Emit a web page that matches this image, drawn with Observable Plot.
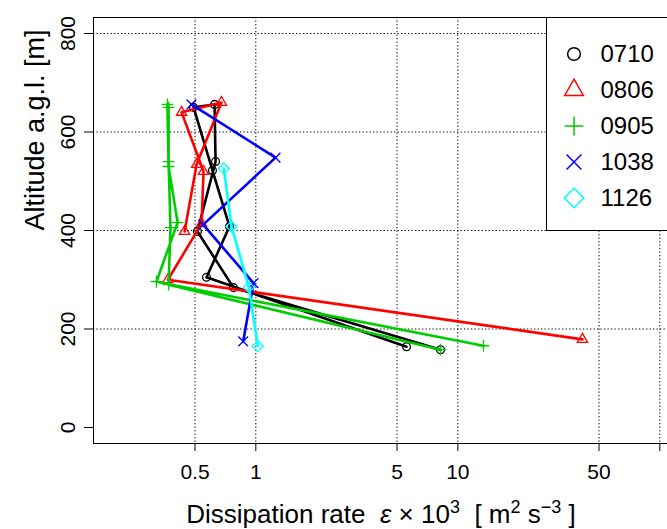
<!DOCTYPE html>
<html>
<head>
<meta charset="utf-8">
<script src="https://cdn.jsdelivr.net/npm/d3@7"></script>
<script src="https://cdn.jsdelivr.net/npm/@observablehq/plot@0.6"></script>
<style>
  html, body { margin: 0; padding: 0; background: #fff; width: 667px; height: 529px; overflow: hidden; }
  #wrap { position: relative; width: 667px; height: 529px; overflow: hidden; font-family: "Liberation Sans", Arial, Helvetica, sans-serif; }
  #chart { position: absolute; left: 0; top: 0; width: 690px; height: 529px; }
  #chart svg { max-width: none !important; display: block; }
  #legend { position: absolute; left: 545.5px; top: 16.5px; width: 150px; height: 214px; border: 1px solid #000; background: #fff; box-sizing: border-box; }
  .lrow { position: absolute; left: 0; height: 36px; }
  .lrow svg { position: absolute; left: 12px; top: 3px; }
  .lrow span { position: absolute; left: 54px; font-size: 24px; line-height: 36px; color: #000; white-space: nowrap; }
</style>
</head>
<body>
<div id="wrap"><div id="chart"></div><div id="legend"></div></div>
<script>
// ---- data ----
const seriesNames = ["0710", "0806", "0905", "1038", "1126"];
const seriesColors = ["#000000", "#ff0000", "#00cd00", "#0000ff", "#00ffff"];
const seriesSymbols = ["circle", "triangle2", "plus", "times", "diamond2"];

// dissipation rate (x 10^3, m^2 s^-3) and altitude (m) per flight, in drawing order
const eps0710 = [5.57, 0.570, 0.741, 0.610, 0.492, 0.625, 0.632, 0.514, 0.775, 8.21];
const alt0710 = [164, 305, 408, 522, 650, 656, 540, 398, 284, 158];

const eps0806 = [41.4, 0.367, 0.539, 0.551, 0.429, 0.676, 0.509, 0.444];
const alt0806 = [179, 300, 414, 520, 640, 660, 534, 398];

const eps0905 = [13.4, 0.322, 0.410, 0.370, 0.365, 0.370, 0.370, 0.378, 0.370, 8.21];
const alt0905 = [166, 296, 416, 530, 656, 650, 540, 406, 290, 158];

const eps1038 = [0.866, 0.974, 0.549, 1.252, 0.480];
const alt1038 = [175, 293, 412, 548, 656];

const eps1126 = [1.023, 0.923, 0.758, 0.694];
const alt1126 = [165, 285, 408, 526];

const xTicks = [0.5, 1, 5, 10, 50, 100];
const xTickLabels = ["0.5", "1", "5", "10", "50", ""];
const yTicks = [0, 200, 400, 600, 800];
const yGridTicks = [200, 400, 600, 800];

const xTitle = "Dissipation rate \u03B5 \u00D7 10\u00B3 [ m\u00B2 s\u207B\u00B3 ]";
const yTitle = "Altitude a.g.l. [m]";

// ---- build tables ----
const epsList = [eps0710, eps0806, eps0905, eps1038, eps1126];
const altList = [alt0710, alt0806, alt0905, alt1038, alt1126];
const tables = seriesNames.map((name, i) =>
  epsList[i].map((e, j) => ({series: name, eps: e, alt: altList[i][j]}))
);
const markerR = {circle: 3.9, triangle2: 4.9, plus: 3.9, times: 4.5, diamond2: 4.9};

const font = '"Liberation Sans", Arial, Helvetica, sans-serif';

const seriesMarks = tables.flatMap((rows, i) => [
  Plot.line(rows, {x: "eps", y: "alt", stroke: seriesColors[i], strokeWidth: 2.6, strokeLinejoin: "round"}),
  Plot.dot(rows, {x: "eps", y: "alt", symbol: seriesSymbols[i], stroke: seriesColors[i], fill: "none",
                  r: markerR[seriesSymbols[i]], strokeWidth: 1.3})
]);

const chart = Plot.plot({
  width: 690,
  height: 529,
  marginLeft: 93,
  marginTop: 17,
  marginBottom: 86,
  marginRight: 8,
  style: {fontFamily: font, background: "white", color: "black", maxWidth: "none"},
  x: {type: "log", domain: [0.1572, 129.5]},
  y: {domain: [-32.5, 832.5]},
  marks: [
    Plot.gridX(xTicks, {stroke: "black", strokeOpacity: 1, strokeWidth: 1, strokeDasharray: "1.3,2.2"}),
    Plot.gridY(yGridTicks, {stroke: "black", strokeOpacity: 1, strokeWidth: 1, strokeDasharray: "1.3,2.2"}),
    Plot.axisX(xTicks, {tickSize: 8, tickFormat: () => "", label: null, strokeWidth: 1}),
    Plot.axisY(yTicks, {tickSize: 9, tickFormat: () => "", label: null, strokeWidth: 1}),
    Plot.text(xTicks, {x: d => d, text: (d, i) => xTickLabels[i], frameAnchor: "bottom", dy: 29,
                       lineAnchor: "middle", fontSize: 21, fill: "black"}),
    Plot.text(yTicks, {y: d => d, text: d => String(d), frameAnchor: "left", dx: -25.5, rotate: -90,
                       textAnchor: "middle", lineAnchor: "middle", fontSize: 21, fill: "black"}),
    Plot.text([xTitle], {frameAnchor: "bottom", dy: 71, dx: -7, lineAnchor: "middle", fontSize: 26, fill: "black"}),
    Plot.text([yTitle], {frameAnchor: "left", dx: -58, rotate: -90, lineAnchor: "middle", fontSize: 27, fill: "black"}),
    ...seriesMarks,
    Plot.frame({stroke: "black", strokeWidth: 1})
  ]
});
document.getElementById("chart").appendChild(chart);

// Render the x title with true superscripts (still real text)
(function () {
  const texts = chart.querySelectorAll("text");
  for (const t of texts) {
    if (t.textContent === xTitle) {
      t.textContent = "";
      const parts = [
        ["Dissipation rate  ", null, null],
        ["\u03B5", "italic", null],
        [" \u00D7 10", null, null],
        ["3", null, "sup"],
        ["  [ m", null, "after"],
        ["2", null, "sup"],
        [" s", null, "after"],
        ["\u22123", null, "sup"],
        [" ]", null, "after"]
      ];
      for (const [s, style, pos] of parts) {
        const ts = document.createElementNS("http://www.w3.org/2000/svg", "tspan");
        ts.textContent = s;
        if (style) ts.setAttribute("font-style", style);
        if (pos === "sup") { ts.setAttribute("dy", "-10"); ts.setAttribute("font-size", "18"); }
        if (pos === "after") { ts.setAttribute("dy", "10"); }
        t.appendChild(ts);
      }
    }
  }
})();

// ---- legend ----
const legendSizes = {circle: 127, triangle2: 250, plus: 118, times: 146, diamond2: 240};
const d3Sym = {circle: d3.symbolCircle, triangle2: d3.symbolTriangle2, plus: d3.symbolPlus, times: d3.symbolTimes, diamond2: d3.symbolDiamond2};
const legend = document.getElementById("legend");
seriesNames.forEach((name, i) => {
  const row = document.createElement("div");
  row.className = "lrow";
  row.style.top = (18 + 36 * i) + "px";
  const sym = seriesSymbols[i];
  const path = d3.symbol(d3Sym[sym], legendSizes[sym])();
  row.innerHTML = `<svg width="30" height="30" viewBox="-15 -15 30 30"><path d="${path}" fill="none" stroke="${seriesColors[i]}" stroke-width="1.5"/></svg><span>${name}</span>`;
  legend.appendChild(row);
});
</script>
</body>
</html>
